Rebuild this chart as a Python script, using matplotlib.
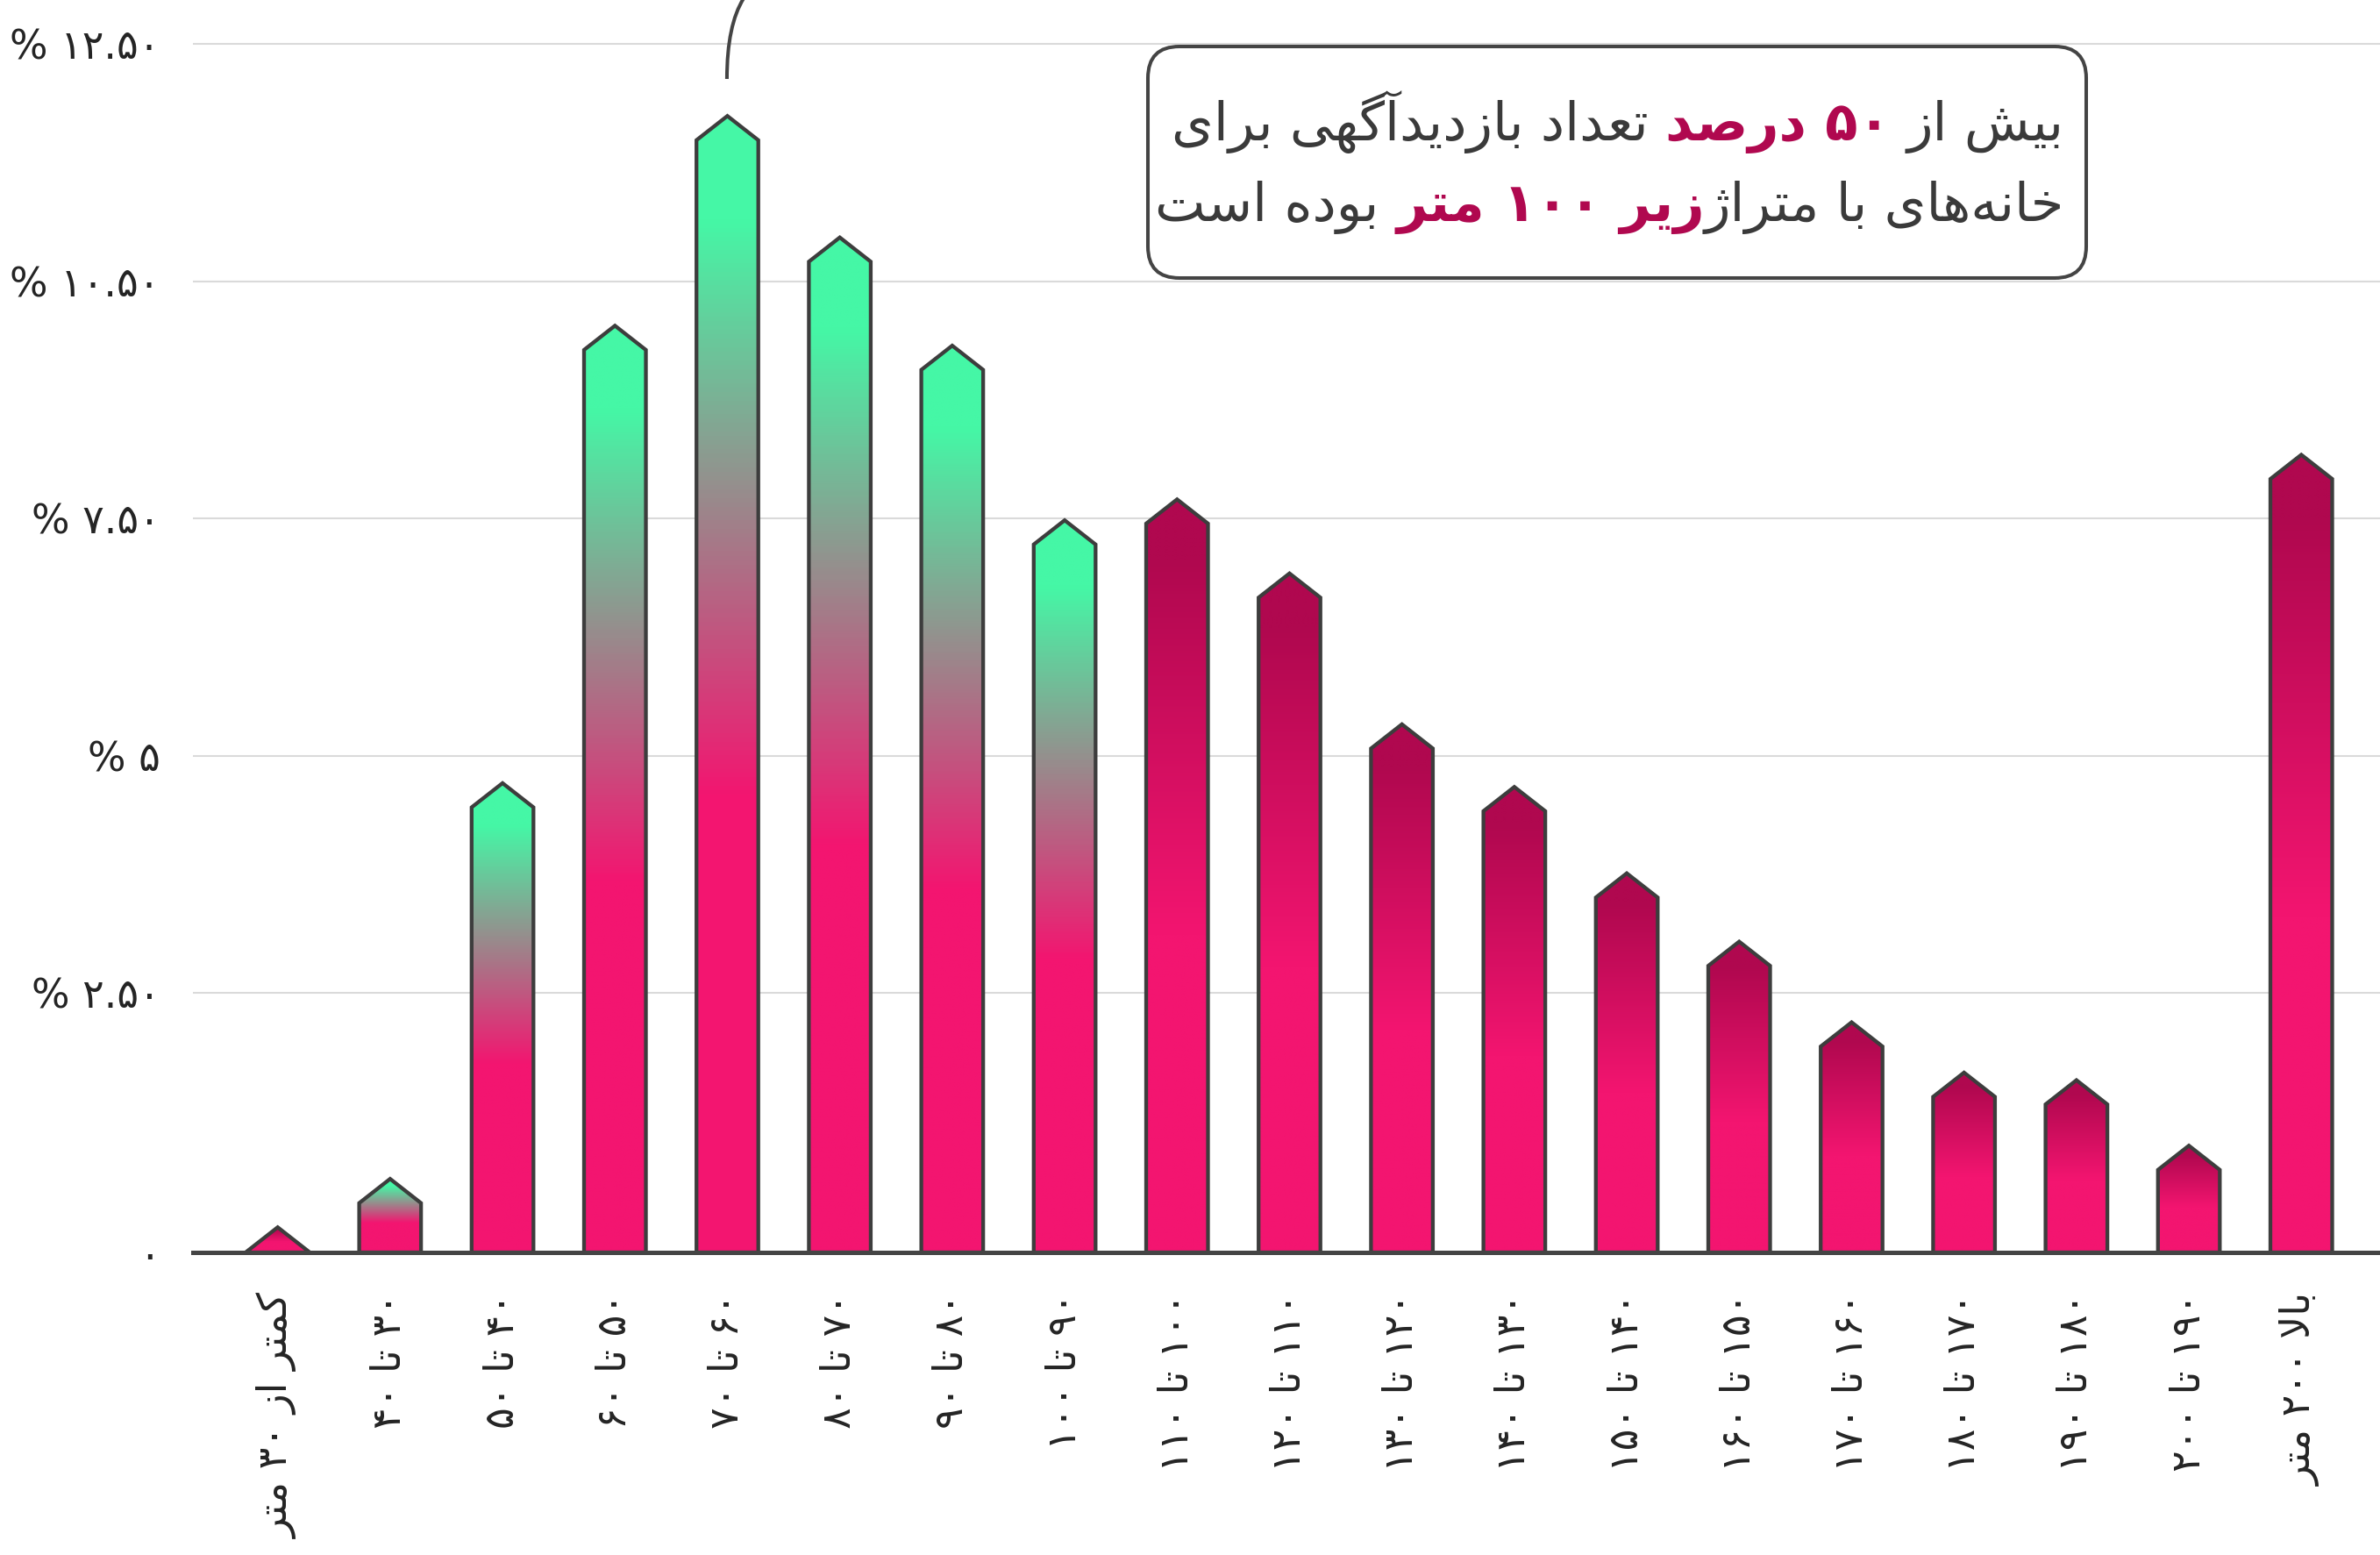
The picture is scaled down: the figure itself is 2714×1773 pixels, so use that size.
import re
import numpy as np
import matplotlib
matplotlib.use("Agg")
import matplotlib.pyplot as plt
from matplotlib.path import Path
from matplotlib.patches import PathPatch, FancyBboxPatch
from matplotlib.colors import LinearSegmentedColormap

# ---------------- data ----------------
categories = [
    "کمتر از ۳۰ متر", "۳۰ تا ۴۰", "۴۰ تا ۵۰", "۵۰ تا ۶۰", "۶۰ تا ۷۰",
    "۷۰ تا ۸۰", "۸۰ تا ۹۰", "۹۰ تا ۱۰۰", "۱۰۰ تا ۱۱۰", "۱۱۰ تا ۱۲۰",
    "۱۲۰ تا ۱۳۰", "۱۳۰ تا ۱۴۰", "۱۴۰ تا ۱۵۰", "۱۵۰ تا ۱۶۰", "۱۶۰ تا ۱۷۰",
    "۱۷۰ تا ۱۸۰", "۱۸۰ تا ۱۹۰", "۱۹۰ تا ۲۰۰", "بالا ۲۰۰ متر",
]
values = [0.03, 0.54, 4.71, 9.53, 11.74, 10.46, 9.32, 7.48, 7.70, 6.92,
          5.33, 4.67, 3.76, 3.04, 2.19, 1.66, 1.58, 0.89, 8.17]
highlight = [False, True, True, True, True, True, True, True, False, False,
             False, False, False, False, False, False, False, False, False]
ytick_values = [2.5, 5, 7.5, 10, 12.5]
ytick_labels = ["% ۲.۵۰", "% ۵", "% ۷.۵۰", "% ۱۰.۵۰", "% ۱۲.۵۰"]
zero_label = "۰"
note_line1 = [("بیش از", False), ("۵۰ درصد", True), ("تعداد بازدیدآگهی برای", False)]
note_line2 = [("خانه\u200cهای با متراژ", False), ("زیر ۱۰۰ متر", True), ("بوده است", False)]
note_gaps1 = [True, True]
note_gaps2 = [False, True]

# ---------------- simple Persian shaping ----------------
FORMS = {
    'ا': ('\uFE8D', '\uFE8E', None, None), 'آ': ('\uFE81', '\uFE82', None, None),
    'ب': ('\uFE8F', '\uFE90', '\uFE91', '\uFE92'), 'پ': ('\uFB56', '\uFB57', '\uFB58', '\uFB59'),
    'ت': ('\uFE95', '\uFE96', '\uFE97', '\uFE98'), 'ث': ('\uFE99', '\uFE9A', '\uFE9B', '\uFE9C'),
    'ج': ('\uFE9D', '\uFE9E', '\uFE9F', '\uFEA0'), 'چ': ('\uFB7A', '\uFB7B', '\uFB7C', '\uFB7D'),
    'ح': ('\uFEA1', '\uFEA2', '\uFEA3', '\uFEA4'), 'خ': ('\uFEA5', '\uFEA6', '\uFEA7', '\uFEA8'),
    'د': ('\uFEA9', '\uFEAA', None, None), 'ذ': ('\uFEAB', '\uFEAC', None, None),
    'ر': ('\uFEAD', '\uFEAE', None, None), 'ز': ('\uFEAF', '\uFEB0', None, None),
    'ژ': ('\uFB8A', '\uFB8B', None, None),
    'س': ('\uFEB1', '\uFEB2', '\uFEB3', '\uFEB4'), 'ش': ('\uFEB5', '\uFEB6', '\uFEB7', '\uFEB8'),
    'ص': ('\uFEB9', '\uFEBA', '\uFEBB', '\uFEBC'), 'ض': ('\uFEBD', '\uFEBE', '\uFEBF', '\uFEC0'),
    'ط': ('\uFEC1', '\uFEC2', '\uFEC3', '\uFEC4'), 'ظ': ('\uFEC5', '\uFEC6', '\uFEC7', '\uFEC8'),
    'ع': ('\uFEC9', '\uFECA', '\uFECB', '\uFECC'), 'غ': ('\uFECD', '\uFECE', '\uFECF', '\uFED0'),
    'ف': ('\uFED1', '\uFED2', '\uFED3', '\uFED4'), 'ق': ('\uFED5', '\uFED6', '\uFED7', '\uFED8'),
    'ک': ('\uFB8E', '\uFB8F', '\uFB90', '\uFB91'), 'گ': ('\uFB92', '\uFB93', '\uFB94', '\uFB95'),
    'ل': ('\uFEDD', '\uFEDE', '\uFEDF', '\uFEE0'), 'م': ('\uFEE1', '\uFEE2', '\uFEE3', '\uFEE4'),
    'ن': ('\uFEE5', '\uFEE6', '\uFEE7', '\uFEE8'), 'ه': ('\uFEE9', '\uFEEA', '\uFEEB', '\uFEEC'),
    'و': ('\uFEED', '\uFEEE', None, None), 'ی': ('\uFBFC', '\uFBFD', '\uFBFE', '\uFBFF'),
}
LAMALEF = {'ا': ('\uFEFB', '\uFEFC'), 'آ': ('\uFEF5', '\uFEF6')}


def _dual(c):
    return c in FORMS and FORMS[c][2] is not None


def shape(text):
    ch = list(text)
    n = len(ch)
    out = []
    i = 0
    while i < n:
        c = ch[i]
        if c == '\u200c':
            i += 1
            continue
        if c not in FORMS:
            out.append(c)
            i += 1
            continue
        jp = i > 0 and _dual(ch[i - 1])
        if c == 'ل' and i + 1 < n and ch[i + 1] in LAMALEF:
            out.append(LAMALEF[ch[i + 1]][1 if jp else 0])
            i += 2
            continue
        jn = _dual(c) and i + 1 < n and ch[i + 1] in FORMS
        f = FORMS[c]
        out.append(f[3] if (jp and jn) else f[1] if jp else f[2] if jn else f[0])
        i += 1
    return ''.join(out)


def visual(text):
    s = shape(text)[::-1]
    return re.sub(r'[0-9\u06F0-\u06F9][0-9\u06F0-\u06F9.]*', lambda m: m.group(0)[::-1], s)


# ---------------- styling ----------------
GREEN = "#45F7A6"
PINK = "#F31570"
DARK = "#B0084F"
EDGE = "#3D3D3D"
TXT = "#242424"
HL = "#B0084F"
FONT = "DejaVu Sans"

cm_green = LinearSegmentedColormap.from_list(
    "g", [(0, GREEN), (0.09, GREEN), (0.60, PINK), (1, PINK)])
cm_mag = LinearSegmentedColormap.from_list(
    "m", [(0, DARK), (0.08, DARK), (0.58, PINK), (1, PINK)])

W, H = 2714, 1773
fig = plt.figure(figsize=(W / 100, H / 100), dpi=100)
fig.patch.set_facecolor("white")

ax_left, ax_bottom_px = 220, 1428
ax = fig.add_axes([ax_left / W, (H - ax_bottom_px) / H, (W - ax_left) / W, ax_bottom_px / H])
ax.set_facecolor("none")

YBOT, YTOP = -0.235, 12.962
XL, XR = -0.754, 18.70
TRI = 0.255
BW = 0.55

grad = np.linspace(0, 1, 400).reshape(-1, 1)
for i, v in enumerate(values):
    s = max(v - TRI, YBOT)
    x0, x1 = i - BW / 2, i + BW / 2
    verts = [(x0, YBOT), (x0, s), (i, v), (x1, s), (x1, YBOT), (x0, YBOT)]
    codes = [Path.MOVETO] + [Path.LINETO] * 4 + [Path.CLOSEPOLY]
    patch = PathPatch(Path(verts, codes), facecolor="none", edgecolor=EDGE,
                      lw=3.1, zorder=3, joinstyle="miter")
    ax.add_patch(patch)
    im = ax.imshow(grad, cmap=cm_green if highlight[i] else cm_mag, aspect="auto",
                   extent=(x0, x1, YBOT, v), origin="upper", zorder=2,
                   interpolation="bilinear")
    im.set_clip_path(patch)

# callout curve above the tallest bar
imax = int(np.argmax(values))
cpath = Path([(imax - 0.004, values[imax] + 0.39), (imax - 0.004, 12.70), (imax + 0.145, 12.98)],
             [Path.MOVETO, Path.CURVE3, Path.CURVE3])
ax.add_patch(PathPatch(cpath, facecolor="none", edgecolor="#444444", lw=2.9,
                       capstyle="butt", clip_on=False, zorder=4))

ax.set_xlim(XL, XR)
ax.set_ylim(YBOT, YTOP)

ax.set_yticks([YBOT] + ytick_values)
ax.set_yticklabels([zero_label] + ytick_labels, fontsize=33, color=TXT, family=FONT)
ax.yaxis.grid(True, color="#DADADA", lw=1.5)
ax.set_axisbelow(True)
ax.tick_params(axis="y", length=0, pad=27)

ax.set_xticks(range(len(categories)))
ax.set_xticklabels([visual(c) for c in categories], rotation=90, va="top", ha="center",
                   fontsize=33, color=TXT, family=FONT)
ax.tick_params(axis="x", length=0, pad=33)

for sp in ["left", "right", "top"]:
    ax.spines[sp].set_visible(False)
ax.spines["bottom"].set_color("#444444")
ax.spines["bottom"].set_linewidth(3.6)
ax.spines["bottom"].set_zorder(5)

# ---------------- note box ----------------
ov = fig.add_axes([0, 0, 1, 1], zorder=10)
ov.set_xlim(0, W)
ov.set_ylim(H, 0)
ov.axis("off")
ov.patch.set_alpha(0)
box = FancyBboxPatch((1309, 53), 1070, 264, boxstyle="round,pad=0,rounding_size=36",
                     facecolor="white", edgecolor="#444444", lw=2.9)
ov.add_patch(box)

renderer = fig.canvas.get_renderer()
NOTE_FS = 44
space_px = 0.318 * NOTE_FS * 100 / 72


def draw_line(segs, gaps, right, baseline):
    x = right
    for k, (txt, hl) in enumerate(segs):
        t = ov.text(x, baseline, visual(txt), ha="right", va="baseline", fontsize=NOTE_FS,
                    family=FONT, color=HL if hl else "#3A3A3A",
                    fontweight="bold" if hl else "normal")
        w = t.get_window_extent(renderer).width
        x -= w
        if k < len(gaps) and gaps[k]:
            x -= space_px


draw_line(note_line1, note_gaps1, 2354, 160)
draw_line(note_line2, note_gaps2, 2354, 252)

fig.savefig("out.png", dpi=100, facecolor="white")
